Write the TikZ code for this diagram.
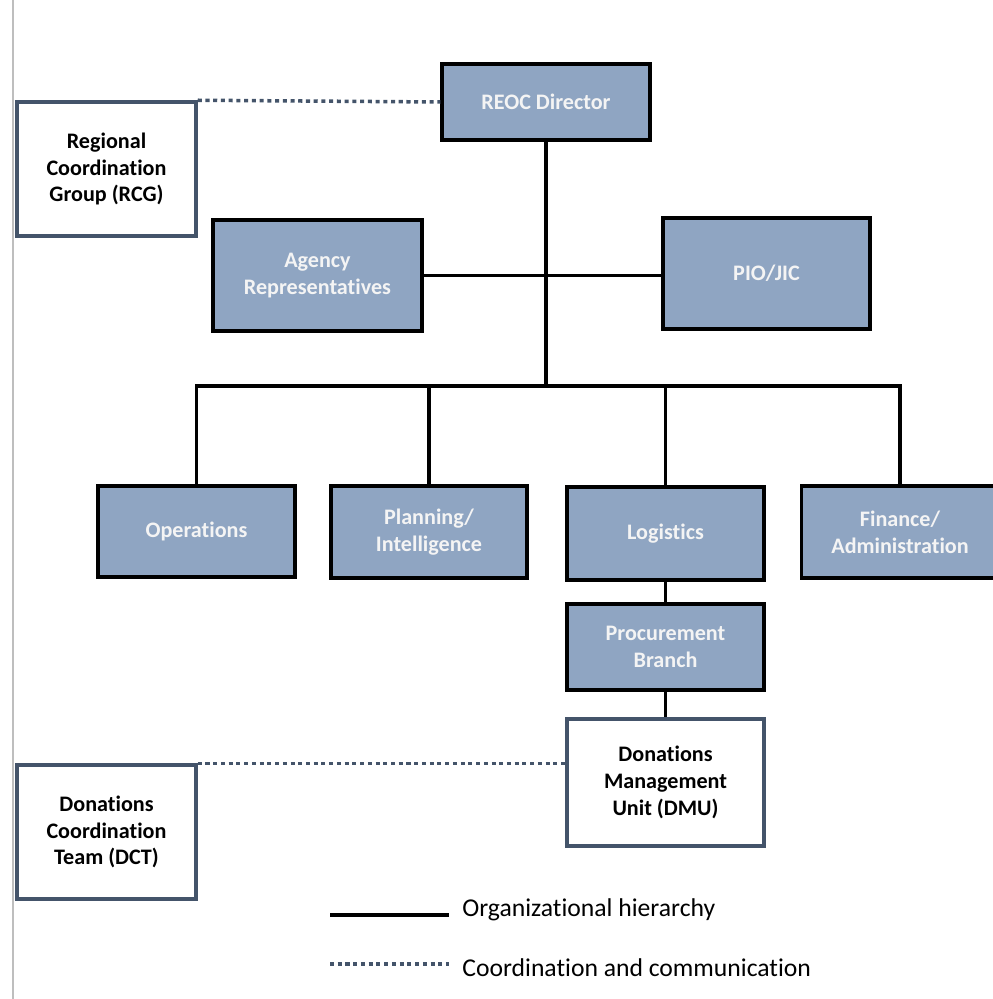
\documentclass[tikz,border=0pt]{standalone}
\usepackage{fontspec}
\setmainfont[Ligatures=NoCommon]{Carlito}
\definecolor{boxblue}{HTML}{8FA5C2}
\definecolor{boxtext}{HTML}{F4F4F4}
\definecolor{slate}{HTML}{44546A}
\definecolor{margin}{HTML}{BEBEBE}
\begin{document}
\begin{tikzpicture}[x=0.02cm,y=-0.02cm,
  fbox/.style={draw=black, line width=2pt, fill=boxblue, text=boxtext,
    font=\bfseries\fontsize{12.6}{15.3}\selectfont, align=center, inner sep=0pt},
  wbox/.style={draw=slate, line width=2pt, fill=white, text=black,
    font=\bfseries\fontsize{12.6}{15.3}\selectfont, align=center, inner sep=0pt},
  hier/.style={line width=2pt, black},
  coordl/.style={line width=2pt, slate, dash pattern=on 2.3pt off 2.1pt},
  legtext/.style={anchor=west, font=\fontsize{14.6}{17}\selectfont, text=black, inner sep=0pt}]
\useasboundingbox (0,0) rectangle (992,999);
\coordinate (mt) at (13,0);
\coordinate (mb) at (13,999);
\draw[margin, line width=0.8pt] (mt) -- (mb);

\node[fbox, minimum width=4.16cm, minimum height=1.52cm] (reoc) at (546,102) {REOC Director};
\node[wbox, minimum width=3.58cm, minimum height=2.68cm] (rcg) at (106.5,169) {Regional\\Coordination\\Group (RCG)};
\node[fbox, minimum width=4.18cm, minimum height=2.22cm] (agency) at (317.5,275.5) {Agency\\Representatives};
\node[fbox, minimum width=4.14cm, minimum height=2.22cm] (pio) at (766.5,273.5) {PIO/JIC};
\node[fbox, minimum width=3.94cm, minimum height=1.82cm] (ops) at (196.5,531.5) {Operations};
\node[fbox, minimum width=3.92cm, minimum height=1.84cm] (plan) at (429,532) {Planning/\\Intelligence};
\node[fbox, minimum width=3.94cm, minimum height=1.86cm] (log) at (665.5,533.5) {Logistics};
\node[fbox, minimum width=3.94cm, minimum height=1.84cm] (fin) at (900,532) {Finance/\\Administration};
\node[fbox, minimum width=3.94cm, minimum height=1.72cm] (proc) at (665.5,647) {Procurement\\Branch};
\node[wbox, minimum width=3.94cm, minimum height=2.54cm] (dmu) at (665.5,782.5) {Donations\\Management\\Unit (DMU)};
\node[wbox, minimum width=3.58cm, minimum height=2.68cm] (dct) at (106.5,832) {Donations\\Coordination\\Team (DCT)};

\coordinate (busc) at (546,386);
\draw[hier] (reoc.south) -- (busc);
\draw[hier] (agency.east) -- (agency.east -| pio.west);
\draw[hier] (ops.north) -- (ops.north |- busc) -- (fin.north |- busc) -- (fin.north);
\draw[hier] (plan.north) -- (plan.north |- busc);
\draw[hier] (log.north) -- (log.north |- busc);
\draw[hier] (log.south) -- (proc.north);
\draw[hier] (proc.south) -- (dmu.north);

\draw[coordl] (rcg.north east) -- (reoc.west);
\draw[coordl] (dct.north east) -- (dct.north east -| dmu.west);

\coordinate (l1a) at (330,915);
\coordinate (l1b) at (449,915);
\coordinate (l2a) at (330,964);
\coordinate (l2b) at (449,964);
\draw[hier] (l1a) -- (l1b);
\draw[coordl] (l2a) -- (l2b);
\node[legtext] (t1) at (462,910) {Organizational hierarchy};
\node[legtext] (t2) at (462,968) {Coordination and communication};
\end{tikzpicture}
\end{document}
